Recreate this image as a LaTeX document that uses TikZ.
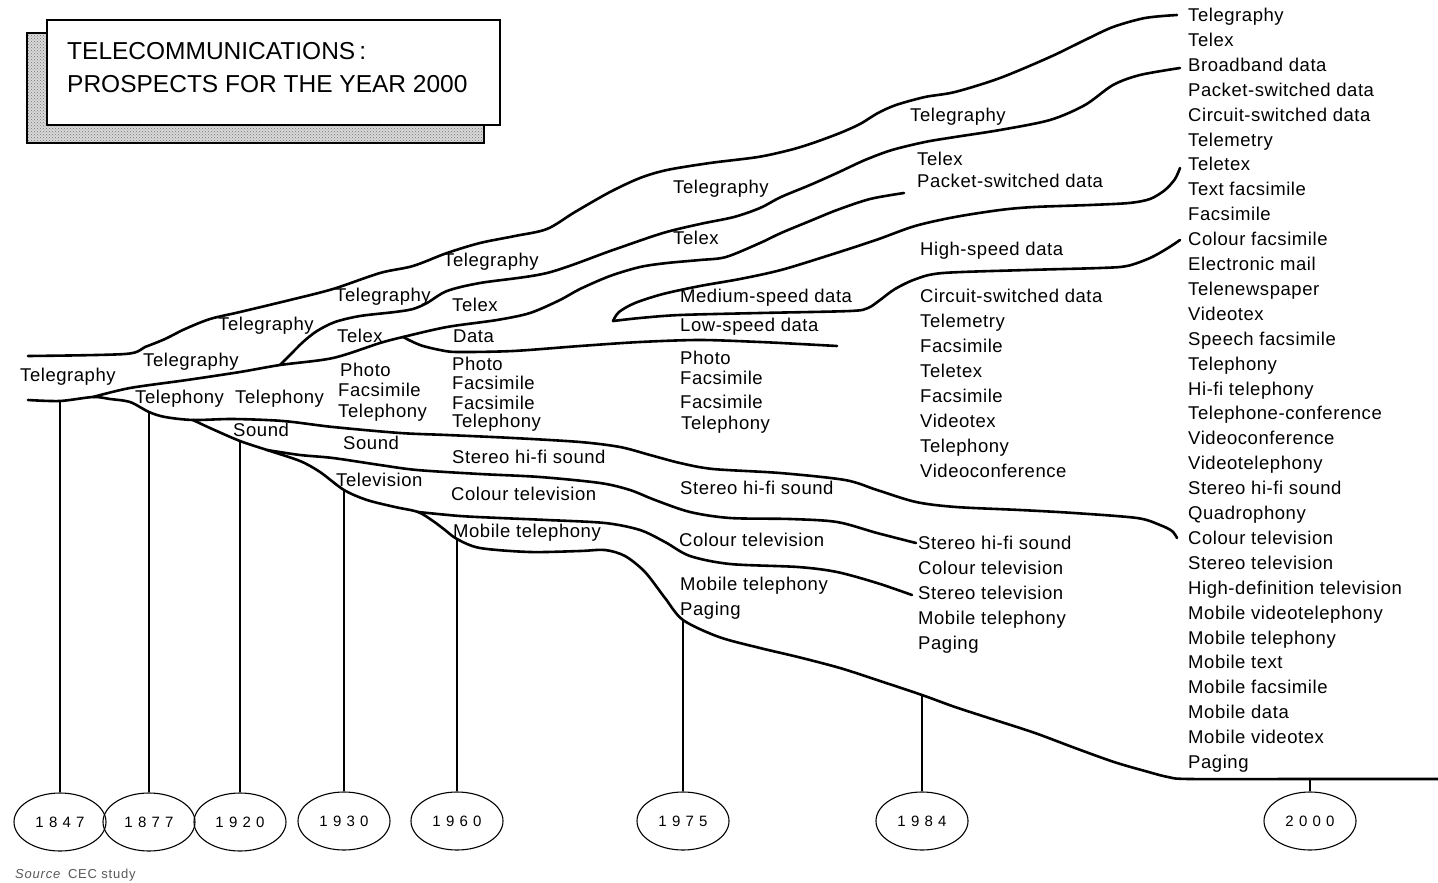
\documentclass[tikz,border=0pt]{standalone}
\usepackage{fontspec}
\setmainfont{Liberation Sans}
\newfontfamily\lblfont[LetterSpace=3.0]{Liberation Sans}
\newfontfamily\yearfont[LetterSpace=35.0]{Liberation Sans}
\newfontfamily\srcfont[LetterSpace=6.0]{Liberation Sans}
\usetikzlibrary{shapes.geometric,patterns}
\begin{document}
\begin{tikzpicture}[x=1pt,y=-1pt,
  band/.style={line width=2.6pt,line cap=round,line join=round},
  tick/.style={line width=1.1pt},
  lbl/.style={anchor=west,inner sep=0pt,font=\lblfont\fontsize{18.5}{22}\selectfont,
              text height=13pt,text depth=4pt},
  yearbox/.style={ellipse,draw,line width=1.1pt,minimum width=92pt,minimum height=58pt,
              inner sep=0pt,font=\yearfont\fontsize{15}{15}\selectfont}]
\useasboundingbox (0,0) rectangle (1438,883);
\fill[white] (0,0) rectangle (1438,883);

% ---------- title box with stippled shadow ----------
\fill[black!15] (27,33) rectangle (484,143);
\fill[pattern=crosshatch dots,pattern color=black!55] (27,33) rectangle (484,143);
\draw[line width=1.2pt] (27,33) rectangle (484,143);
\filldraw[fill=white,draw=black,line width=1.3pt] (47,20) rectangle (500,125);
\node[anchor=north west,inner sep=0pt,align=left,font=\fontsize{24.5}{33}\selectfont] (title)
  at (67,42) {TELECOMMUNICATIONS\,:\\PROSPECTS FOR THE YEAR 2000};

% ---------- branch points and line ends ----------
\coordinate (L0t) at (28,356);
\coordinate (L0b) at (28,400);
\coordinate (F1) at (93,397);   % telephony splits off
\coordinate (F2) at (193,420);  % sound
\coordinate (F3) at (267,450);  % television
\coordinate (F4) at (418,512);  % mobile
\coordinate (F5) at (280,365);  % telex
\coordinate (F6) at (403,337);  % data
\coordinate (F7) at (613,321);  % medium-speed data
\coordinate (d1) at (60,401);
\coordinate (d2) at (149,412);
\coordinate (d3) at (240,441);
\coordinate (d4) at (344,490);
\coordinate (d5) at (457,539);
\coordinate (d6) at (683,620);
\coordinate (d7) at (922,695);
\coordinate (d8) at (1310,779);
\coordinate (e8) at (1438,779);

% ---------- the branching bands ----------
% upper edge of telegraphy
\draw[band] plot[smooth,tension=0.5] coordinates {(L0t) (125,354) (145,347) (165,339) (185,329)
  (210,319) (240,312) (290,300) (333,289) (380,273) (413,266) (447,253) (480,243) (515,236)
  (547,229) (575,212) (610,192) (640,178) (667,170) (710,163) (758,157) (790,150) (813,143)
  (840,133) (860,124) (878,113) (896,105) (925,97) (955,92) (1000,78) (1050,57) (1085,40)
  (1113,27) (1145,18) (1177,15)};
% lower edge of telegraphy, then telephony / sound
\draw[band] plot[smooth,tension=0.5] coordinates {(L0b) (d1) (F1) (110,399) (130,402) (d2)
  (165,417) (F2) (233,419) (283,421) (333,427) (400,433) (447,435) (513,438) (580,442)
  (620,447) (650,455) (680,463) (713,469) (780,473) (845,480) (877,490) (916,502) (956,507)
  (1020,510) (1074,513) (1137,518) (1160,525) (1172,531) (1177,538)};
% lower edge of the whole tree
\draw[band] plot[smooth,tension=0.5] coordinates {(F2) (210,428) (d3) (F3) (300,461)
  (320,472) (d4) (367,500) (395,507) (F4) (433,521) (445,530) (d5) (480,548) (530,552)
  (580,551) (605,550) (625,556) (645,572) (665,598) (d6) (719,637) (760,648) (798,657)
  (840,668) (877,680) (d7) (955,707) (995,720) (1035,733) (1075,748) (1114,762)
  (1145,771) (1168,777) (1190,779) (d8) (e8)};
% sound / television
\draw[band] plot[smooth,tension=0.5] coordinates {(F3) (300,455) (333,458) (380,465)
  (417,470) (480,474) (540,477) (600,483) (630,490) (655,500) (690,512) (730,518)
  (790,519) (837,522) (877,533) (916,543)};
% television / mobile
\draw[band] plot[smooth,tension=0.5] coordinates {(F4) (460,516) (500,518) (547,520)
  (605,523) (640,530) (665,542) (690,556) (730,564) (798,567) (837,572) (877,583) (912,595)};
% telegraphy / telephony, then lower edge of telex
\draw[band] plot[smooth,tension=0.5] coordinates {(F1) (130,388) (187,380) (240,372) (F5)
  (333,358) (380,343) (F6) (447,327) (497,320) (530,313) (560,300) (580,289) (610,276)
  (640,267) (667,263) (700,260) (726,257) (760,243) (781,233) (810,221) (837,210)
  (870,199) (904,193)};
% telegraphy / telex
\draw[band] plot[smooth,tension=0.5] coordinates {(F5) (290,355) (303,342) (317,331)
  (335,322) (360,316) (395,312) (413,309) (427,303) (447,291) (480,283) (547,273)
  (613,250) (663,233) (700,224) (734,217) (760,208) (781,197) (810,185) (837,173)
  (865,160) (892,150) (925,142) (955,137) (1000,130) (1050,120) (1085,105) (1113,85)
  (1140,75) (1180,68)};
% low-speed data, lower edge
\draw[band] plot[smooth,tension=0.5] coordinates {(F6) (413,342) (423,346) (440,350)
  (457,352) (513,351) (580,346) (640,342) (700,340) (760,342) (800,344) (837,346)};
% medium-speed data, upper arm
\draw[band] plot[smooth,tension=0.5] coordinates {(F7) (619,312) (635,303) (663,294)
  (700,286) (740,279) (781,270) (830,255) (876,240) (915,226) (955,217) (1000,210)
  (1034,207) (1090,205) (1129,203) (1150,199) (1165,190) (1175,179) (1180,168)};
% medium-speed data, lower arm
\draw[band] plot[smooth,tension=0.5] coordinates {(F7) (640,318) (680,315) (760,313)
  (850,311) (868,308) (880,300) (895,289) (916,279) (943,273) (1027,270) (1100,268)
  (1127,266) (1150,258) (1168,248) (1180,240)};

% ---------- year ellipses and their drop lines ----------
\node[yearbox] (y1) at (60,822) {1847};
\node[yearbox] (y2) at (149,822) {1877};
\node[yearbox] (y3) at (240,822) {1920};
\node[yearbox] (y4) at (344,821) {1930};
\node[yearbox] (y5) at (457,821) {1960};
\node[yearbox] (y6) at (683,821) {1975};
\node[yearbox] (y7) at (922,821) {1984};
\node[yearbox] (y8) at (1310,821) {2000};
\foreach \k in {1,...,8} \draw[tick] (d\k) -- (d\k |- y\k.north);

% ---------- services along the bands ----------
\node[lbl] (a1) at (20,377) {Telegraphy};
\node[lbl] (b1) at (143,362) {Telegraphy};
\node[lbl] (b2) at (218,326) {Telegraphy};
\node[lbl] (b3) at (135,399) {Telephony};
\node[lbl] (b4) at (235,399) {Telephony};
\node[lbl] (c1) at (233,432) {Sound};
\node[lbl] (g1) at (335,297) {Telegraphy};
\node[lbl] (g2) at (337,338) {Telex};
\node[lbl] (g3) at (340,372) {Photo};
\node[lbl] (g4) at (338,392) {Facsimile};
\node[lbl] (g5) at (338,413) {Telephony};
\node[lbl] (g6) at (343,445) {Sound};
\node[lbl] (g7) at (336,482) {Television};
\node[lbl] (h1) at (443,262) {Telegraphy};
\node[lbl] (h2) at (452,307) {Telex};
\node[lbl] (h3) at (453,338) {Data};
\node[lbl] (h4) at (452,366) {Photo};
\node[lbl] (h5) at (452,385) {Facsimile};
\node[lbl] (h6) at (452,405) {Facsimile};
\node[lbl] (h7) at (452,423) {Telephony};
\node[lbl] (h8) at (452,459) {Stereo hi-fi sound};
\node[lbl] (h9) at (451,496) {Colour television};
\node[lbl] (h10) at (453,533) {Mobile telephony};
\node[lbl] (m1) at (673,189) {Telegraphy};
\node[lbl] (m2) at (673,240) {Telex};
\node[lbl] (m3) at (680,298) {Medium-speed data};
\node[lbl] (m4) at (680,327) {Low-speed data};
\node[lbl] (m5) at (680,360) {Photo};
\node[lbl] (m6) at (680,380) {Facsimile};
\node[lbl] (m7) at (680,404) {Facsimile};
\node[lbl] (m8) at (681,425) {Telephony};
\node[lbl] (m9) at (680,490) {Stereo hi-fi sound};
\node[lbl] (m10) at (679,542) {Colour television};
\node[lbl] (m11) at (680,586) {Mobile telephony};
\node[lbl] (m12) at (680,611) {Paging};
\node[lbl] (p1) at (910,117) {Telegraphy};
\node[lbl] (p2) at (917,161) {Telex};
\node[lbl] (p3) at (917,183) {Packet-switched data};
\node[lbl] (p4) at (920,251) {High-speed data};
\foreach \t [count=\i] in {Circuit-switched data,Telemetry,Facsimile,Teletex,Facsimile,
    Videotex,Telephony,Videoconference}
  \node[lbl] (q\i) at (920,{298+25*(\i-1)}) {\t};
\foreach \t [count=\i] in {Stereo hi-fi sound,Colour television,Stereo television,
    Mobile telephony,Paging}
  \node[lbl] (s\i) at (918,{545+25*(\i-1)}) {\t};
\foreach \t [count=\i] in {Telegraphy,Telex,Broadband data,Packet-switched data,
    Circuit-switched data,Telemetry,Teletex,Text facsimile,Facsimile,Colour facsimile,
    Electronic mail,Telenewspaper,Videotex,Speech facsimile,Telephony,Hi-fi telephony,
    Telephone-conference,Videoconference,Videotelephony,Stereo hi-fi sound,Quadrophony,
    Colour television,Stereo television,High-definition television,Mobile videotelephony,
    Mobile telephony,Mobile text,Mobile facsimile,Mobile data,Mobile videotex,Paging}
  \node[lbl] (r\i) at (1188,{17+24.9*(\i-1)}) {\t};

% ---------- source ----------
\node[anchor=west,inner sep=0pt,text=black!65,font=\srcfont\fontsize{13}{13}\selectfont] (src)
  at (15,875) {\textit{Source}\hspace{7pt}CEC study};
\end{tikzpicture}
\end{document}
